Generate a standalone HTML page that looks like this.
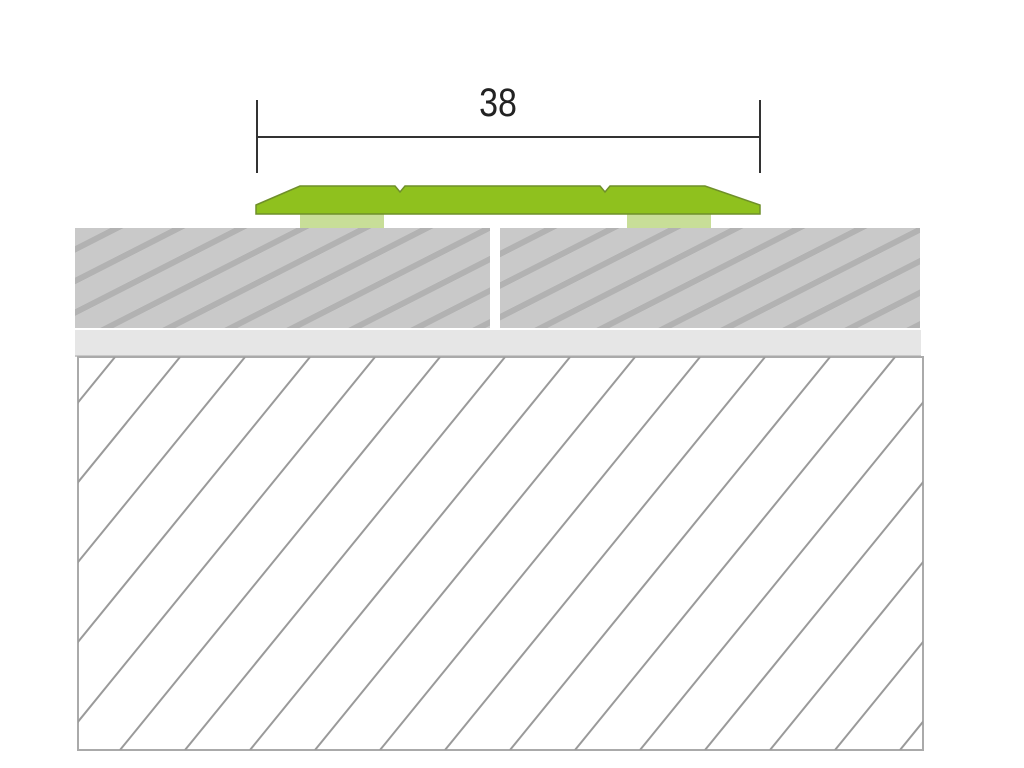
<!DOCTYPE html>
<html><head><style>body{margin:0;background:#fff}svg{display:block}</style></head><body>
<svg width="1024" height="768" viewBox="0 0 1024 768" xmlns="http://www.w3.org/2000/svg">
<defs>
<pattern id="up" patternUnits="userSpaceOnUse" width="62" height="100" patternTransform="skewX(-63)">
<rect width="62" height="100" fill="#c9c9c9"/>
<rect x="0" y="0" width="13" height="100" fill="#b2b2b2"/>
</pattern>
<clipPath id="cb"><rect x="78" y="357" width="845" height="393"/></clipPath>
</defs>
<line x1="257" y1="137" x2="760" y2="137" stroke="#333" stroke-width="2"/>
<line x1="257" y1="100" x2="257" y2="173" stroke="#333" stroke-width="2"/>
<line x1="760" y1="100" x2="760" y2="173" stroke="#333" stroke-width="2"/>
<text x="498" y="116" font-family="Liberation Sans Narrow, Liberation Sans, sans-serif" font-size="40" text-anchor="middle" fill="#222" transform="translate(498 0) scale(0.85 1) translate(-498 0)">38</text>
<rect x="300" y="212" width="84" height="16" fill="#c8de98"/>
<rect x="627" y="212" width="84" height="16" fill="#c8de98"/>
<path d="M256,205 L300,186 L395,186 L400,192 L405,186 L600,186 L605,192 L610,186 L705,186 L760,205 L760,214 L256,214 Z" fill="#8fc11e" stroke="#6f8f2a" stroke-width="1.5"/>
<rect x="75" y="228" width="415" height="100" fill="url(#up)"/>
<rect x="500" y="228" width="420" height="100" fill="url(#up)"/>
<rect x="75" y="330" width="846" height="26" fill="#e6e6e6"/>
<line x1="75" y1="356" x2="921" y2="356" stroke="#c8c8c8" stroke-width="2"/>
<rect x="78" y="357" width="845" height="393" fill="#fff" stroke="#aaa" stroke-width="2"/>
<g clip-path="url(#cb)" stroke="#9a9a9a" stroke-width="2">
<line x1="115" y1="357" x2="-205" y2="750"/><line x1="180" y1="357" x2="-140" y2="750"/><line x1="245" y1="357" x2="-75" y2="750"/><line x1="310" y1="357" x2="-10" y2="750"/><line x1="375" y1="357" x2="55" y2="750"/><line x1="440" y1="357" x2="120" y2="750"/><line x1="505" y1="357" x2="185" y2="750"/><line x1="570" y1="357" x2="250" y2="750"/><line x1="635" y1="357" x2="315" y2="750"/><line x1="700" y1="357" x2="380" y2="750"/><line x1="765" y1="357" x2="445" y2="750"/><line x1="830" y1="357" x2="510" y2="750"/><line x1="895" y1="357" x2="575" y2="750"/><line x1="960" y1="357" x2="640" y2="750"/><line x1="1025" y1="357" x2="705" y2="750"/><line x1="1090" y1="357" x2="770" y2="750"/><line x1="1155" y1="357" x2="835" y2="750"/><line x1="1220" y1="357" x2="900" y2="750"/><line x1="1285" y1="357" x2="965" y2="750"/>
</g>
</svg>
</body></html>
